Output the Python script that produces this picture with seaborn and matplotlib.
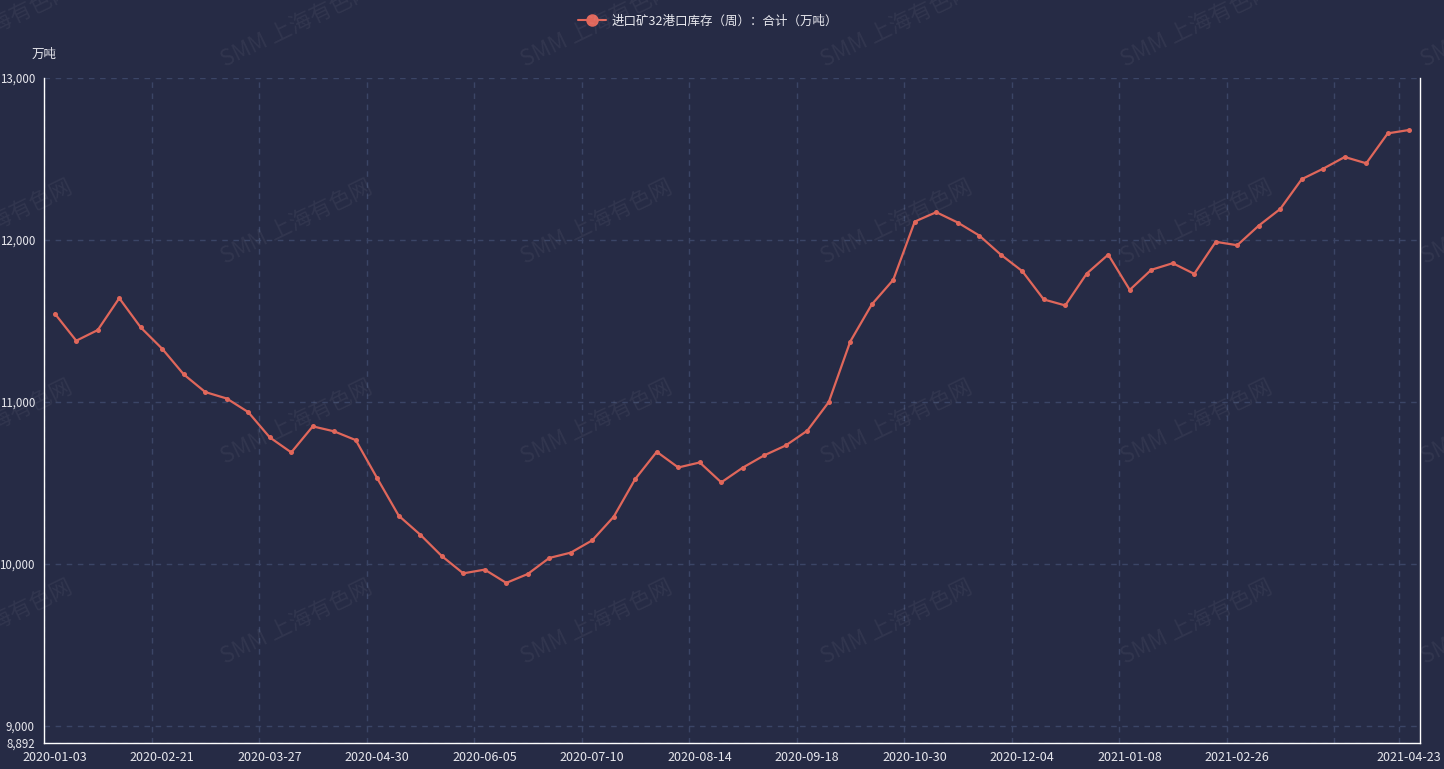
import matplotlib
matplotlib.use("Agg")
import matplotlib.pyplot as plt
from matplotlib.lines import Line2D
from matplotlib.ticker import FixedLocator, FuncFormatter
import numpy as np
import pandas as pd
import seaborn as sns

dates = [
    "2020-01-03", "2020-01-10", "2020-01-17", "2020-02-07", "2020-02-14",
    "2020-02-21", "2020-02-28", "2020-03-06", "2020-03-13", "2020-03-20",
    "2020-03-27", "2020-04-03", "2020-04-10", "2020-04-17", "2020-04-24",
    "2020-04-30", "2020-05-08", "2020-05-15", "2020-05-22", "2020-05-29",
    "2020-06-05", "2020-06-12", "2020-06-19", "2020-06-24", "2020-07-03",
    "2020-07-10", "2020-07-17", "2020-07-24", "2020-07-31", "2020-08-07",
    "2020-08-14", "2020-08-21", "2020-08-28", "2020-09-04", "2020-09-11",
    "2020-09-18", "2020-09-25", "2020-09-30", "2020-10-16", "2020-10-23",
    "2020-10-30", "2020-11-06", "2020-11-13", "2020-11-20", "2020-11-27",
    "2020-12-04", "2020-12-11", "2020-12-18", "2020-12-25", "2020-12-31",
    "2021-01-08", "2021-01-15", "2021-01-22", "2021-01-29", "2021-02-05",
    "2021-02-26", "2021-03-05", "2021-03-12", "2021-03-19", "2021-03-26",
    "2021-04-02", "2021-04-09", "2021-04-16", "2021-04-23",
]
stock = [
    11545, 11377, 11443, 11640, 11459, 11327, 11169, 11060, 11020, 10936,
    10780, 10687, 10848, 10817, 10763, 10527, 10296, 10179, 10047, 9940,
    9963, 9881, 9936, 10035, 10068, 10144, 10290, 10523, 10691, 10594,
    10625, 10502, 10593, 10669, 10730, 10821, 10998, 11372, 11601, 11753,
    12113, 12171, 12107, 12027, 11909, 11807, 11632, 11595, 11792, 11909,
    11691, 11815, 11856, 11790, 11988, 11967, 12088, 12191, 12375, 12440,
    12512, 12473, 12658, 12679,
]
y_ticks = [8892, 9000, 10000, 11000, 12000, 13000]
label_idx = [0, 5, 10, 15, 20, 25, 30, 35, 40, 45, 50, 55, 63]
series_name = "进口矿32港口库存（周）：合计（万吨）"
unit = "万吨"

bg = "#262b45"
line_c = "#e0675b"
grid_c = "#3b4566"
txt_c = "#e8e8ee"

sns.set_style("dark")
plt.rcParams["font.family"] = ["Noto Sans CJK SC", "DejaVu Sans"]
plt.rcParams["axes.unicode_minus"] = False

df = pd.DataFrame({"pos": np.arange(len(dates)), "value": stock})

fig = plt.figure(figsize=(14.44, 7.69), dpi=100, facecolor=bg)
ax = fig.add_axes([44 / 1444, 1 - 743 / 769, (1420 - 44) / 1444, (743 - 78) / 769])
ax.set_facecolor(bg)

sns.lineplot(data=df, x="pos", y="value", ax=ax, color=line_c, linewidth=1.6,
             marker="o", markersize=3.6, markeredgewidth=0, legend=False)

ax.set_xlim(-0.5, len(dates) - 0.5)
ax.set_ylim(y_ticks[0], y_ticks[-1])

# x: labels at band centres, ticks/grid at band edges
ax.set_xticks(label_idx)
ax.set_xticklabels([dates[i] for i in label_idx])
ax.xaxis.set_minor_locator(FixedLocator([i - 0.5 for i in range(0, 61, 5)]))
ax.tick_params(axis="x", which="major", length=0, pad=6, labelsize=9, colors=txt_c)
ax.tick_params(axis="x", which="minor", length=5, width=1, color="white", direction="out")
ax.xaxis.grid(True, which="minor", color=grid_c, linestyle=(0, (4, 4)), linewidth=1)
ax.xaxis.grid(False, which="major")
ax.axvline(len(dates) - 1.5, color=grid_c, linestyle=(0, (4, 4)), linewidth=1, zorder=0)

ax.set_yticks(y_ticks)
ax.yaxis.set_major_formatter(FuncFormatter(lambda v, p: f"{int(v):,}"))
ax.tick_params(axis="y", length=5, width=1, color="white", labelsize=8.3,
               labelcolor=txt_c, pad=1.5, direction="out")
for t, v in zip(ax.yaxis.get_major_ticks(), y_ticks):
    t.gridline.set_visible(v != y_ticks[0])
ax.yaxis.grid(True, color=grid_c, linestyle=(0, (4, 4)), linewidth=1)
ax.set_axisbelow(True)

ax.set_xlabel("")
ax.set_ylabel("")
for side in ["left", "bottom", "right"]:
    ax.spines[side].set_visible(True)
    ax.spines[side].set_color("white")
    ax.spines[side].set_linewidth(1)
ax.spines["top"].set_visible(False)

ax.text(0, 1.035, unit, transform=ax.transAxes, ha="center", va="center",
        fontsize=9, color=txt_c)

handle = Line2D([], [], color=line_c, linewidth=1.5, marker="o", markersize=9,
                markeredgewidth=0)
leg = ax.legend([handle], [series_name], loc="center",
                bbox_to_anchor=(708 / 1444, 1 - 21 / 769),
                bbox_transform=fig.transFigure, frameon=False, fontsize=9,
                handlelength=2.2, handletextpad=0.45, borderpad=0)
for t in leg.get_texts():
    t.set_color(txt_c)

# watermark
for yy in [25, 222, 422, 622]:
    for xx in [-3, 297, 597, 897, 1197, 1497]:
        fig.text(xx / 1444, 1 - yy / 769, "SMM 上海有色网", rotation=26,
                 ha="center", va="center", fontsize=16, color="white",
                 alpha=0.055, rotation_mode="anchor")

fig.savefig("out.png", dpi=100, facecolor=bg)
